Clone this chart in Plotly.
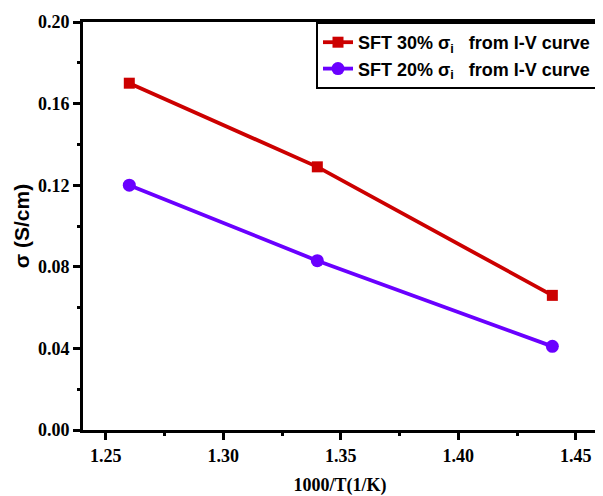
import plotly.graph_objects as go

x_vals = [1.26, 1.34, 1.44]
sft30 = [0.170, 0.129, 0.066]
sft20 = [0.120, 0.083, 0.041]
names = ["SFT 30% σ<sub>i</sub>\u00a0\u00a0\u00a0from I-V curve",
         "SFT 20% σ<sub>i</sub>\u00a0\u00a0\u00a0from I-V curve"]
x_ticks = [1.25, 1.30, 1.35, 1.40, 1.45]
y_ticks = [0.00, 0.04, 0.08, 0.12, 0.16, 0.20]

fig = go.Figure()
fig.add_trace(go.Scatter(x=x_vals, y=sft30, mode="lines+markers", name=names[0],
                         line=dict(color="#CC0000", width=3.8),
                         marker=dict(symbol="square", size=11, color="#CC0000")))
fig.add_trace(go.Scatter(x=x_vals, y=sft20, mode="lines+markers", name=names[1],
                         line=dict(color="#6A00FF", width=3.8),
                         marker=dict(symbol="circle", size=13, color="#6A00FF")))

def axis_common(fsize):
    return dict(showline=True, linecolor="black", linewidth=3, mirror=True,
                ticks="outside", ticklen=7, tickwidth=3, tickcolor="black",
                showgrid=False, zeroline=False,
                tickfont=dict(family="Liberation Serif", size=fsize, color="black", weight="bold"))

fig.update_xaxes(range=[1.2403, 1.459], tickvals=x_ticks,
                 ticktext=[f"{v:.2f}" for v in x_ticks],
                 title=dict(text="<b>1000/T(1/K)</b>",
                            font=dict(family="Liberation Serif", size=18, color="black"),
                            standoff=15),
                 **axis_common(18))
fig.update_xaxes(minor=dict(ticks="outside", ticklen=3, tickwidth=3, tickcolor="black",
                            tick0=1.25, dtick=0.025, showgrid=False))
fig.update_yaxes(range=[0, 0.2], tickvals=y_ticks,
                 ticktext=[f"{v:.2f}" for v in y_ticks],
                 title=dict(text="<b>σ (S/cm)</b>",
                            font=dict(family="Liberation Sans", size=21, color="black"),
                            standoff=3),
                 **axis_common(18))
fig.update_yaxes(minor=dict(ticks="outside", ticklen=3, tickwidth=3, tickcolor="black",
                            tick0=0, dtick=0.02, showgrid=False))

fig.update_layout(
    width=595, height=488,
    margin=dict(l=75, r=3, t=14, b=63),
    plot_bgcolor="white", paper_bgcolor="white",
    legend=dict(x=1, y=1, xanchor="right", yanchor="top",
                bordercolor="black", borderwidth=2, bgcolor="white",
                font=dict(family="Liberation Sans", size=18, color="black", weight="bold"),
                tracegroupgap=0, itemwidth=30),
)
fig.write_html("out.html")
